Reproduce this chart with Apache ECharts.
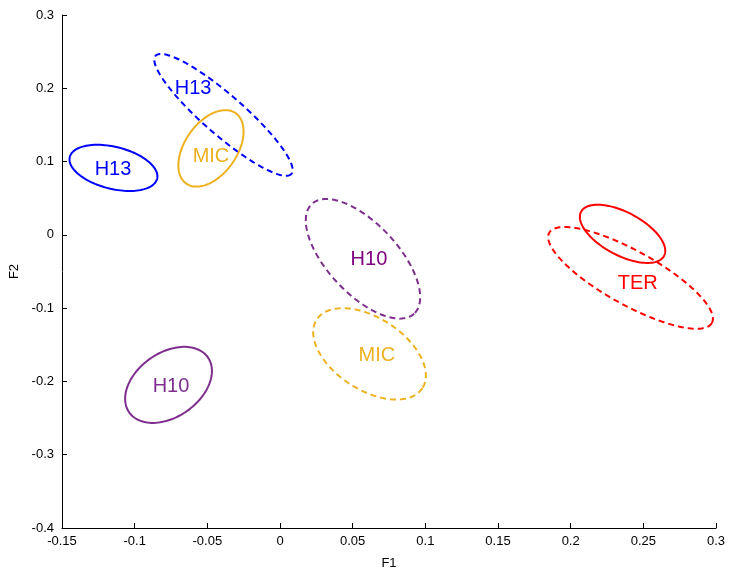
<!DOCTYPE html>
<html>
<head>
<meta charset="utf-8">
<script src="https://cdn.jsdelivr.net/npm/echarts@6/dist/echarts.min.js"></script>
<style>html,body{margin:0;padding:0;background:#fff}#c{width:729px;height:571px}</style>
</head>
<body>
<div id="c"></div>
<script>
// Ellipse groups: center (cx, cy) and two half-axis vectors (u, v) in data units
const names   = ['H13', 'H13', 'MIC', 'H10', 'MIC', 'TER', 'TER', 'H10'];
const dashed  = [false, true, false, true, true, false, true, false];
const colors  = ['#0000FF', '#0000FF', '#EDB120', '#7E2F8E', '#EDB120', '#FF0000', '#FF0000', '#7E2F8E'];
const centerX = [-0.1146, -0.0389, -0.0475, 0.0571, 0.0616, 0.2357, 0.2412, -0.0767];
const centerY = [0.0914, 0.1637, 0.1180, -0.0327, -0.1624, 0.0014, -0.0587, -0.2047];
const uX = [0.03004, 0.04674, 0.01697, 0.03520, 0.03636, 0.02855, 0.05597, 0.02706];
const uY = [-0.01486, -0.08057, 0.04806, -0.07484, -0.04681, -0.03011, -0.06152, 0.03757];
const vX = [-0.00350, -0.00903, 0.01466, -0.01761, -0.01349, -0.00695, -0.00901, 0.01263];
const vY = [-0.0278, -0.02059, -0.02035, -0.03257, -0.04119, -0.02590, -0.03222, -0.03577];
// Text labels (data coordinates)
const labelText  = ['H13', 'H13', 'MIC', 'H10', 'MIC', 'TER', 'H10'];
const labelX     = [-0.1149, -0.0598, -0.0475, 0.0612, 0.0667, 0.2462, -0.0750];
const labelY     = [0.0888, 0.1993, 0.1065, -0.0340, -0.1650, -0.0668, -0.2073];
const labelColor = ['#0000FF', '#0000FF', '#EDB120', '#800080', '#EDB120', '#FF0000', '#7E2F8E'];
const xTicks = { min: -0.15, max: 0.3, interval: 0.05 };
const yTicks = { min: -0.4, max: 0.3, interval: 0.1 };

const ellipseData = names.map((n, i) => [centerX[i], centerY[i], uX[i], uY[i], vX[i], vY[i], i]);
const labelData = labelText.map((t, i) => [labelX[i], labelY[i], i]);

const chart = echarts.init(document.getElementById('c'), null, { renderer: 'canvas' });
const font = 'Liberation Sans, Arial, Helvetica, sans-serif';
chart.setOption({
  animation: false,
  grid: { left: 62, right: 13, top: 15, bottom: 43, containLabel: false, outerBoundsMode: 'none' },
  xAxis: {
    type: 'value', min: xTicks.min, max: xTicks.max, interval: xTicks.interval,
    name: 'F1', nameLocation: 'middle', nameGap: 29,
    nameTextStyle: { color: '#000', fontSize: 13, fontFamily: font },
    axisLine: { onZero: false, lineStyle: { color: '#000', width: 1 } },
    axisTick: { inside: true, length: 5, lineStyle: { color: '#000' } },
    axisLabel: { color: '#000', fontSize: 13, fontFamily: font, margin: 7 },
    splitLine: { show: false }
  },
  yAxis: {
    type: 'value', min: yTicks.min, max: yTicks.max, interval: yTicks.interval,
    name: 'F2', nameLocation: 'middle', nameGap: 40,
    nameTextStyle: { color: '#000', fontSize: 13, fontFamily: font },
    axisLine: { onZero: false, lineStyle: { color: '#000', width: 1 } },
    axisTick: { inside: true, length: 5, lineStyle: { color: '#000' } },
    axisLabel: { color: '#000', fontSize: 13, fontFamily: font, margin: 8 },
    splitLine: { show: false }
  },
  series: [
    {
      type: 'custom',
      data: ellipseData,
      clip: false,
      renderItem: function (params, api) {
        const cx = api.value(0), cy = api.value(1);
        const ux = api.value(2), uy = api.value(3);
        const vx = api.value(4), vy = api.value(5);
        const idx = api.value(6);
        const pts = [];
        const N = 120;
        for (let k = 0; k < N; k++) {
          const t = 2 * Math.PI * k / N;
          const x = cx + Math.cos(t) * ux + Math.sin(t) * vx;
          const y = cy + Math.cos(t) * uy + Math.sin(t) * vy;
          pts.push(api.coord([x, y]));
        }
        return {
          type: 'polygon',
          shape: { points: pts },
          style: {
            fill: 'none',
            stroke: colors[idx],
            lineWidth: 2,
            lineDash: dashed[idx] ? [6, 4] : null
          }
        };
      }
    },
    {
      type: 'custom',
      data: labelData,
      clip: false,
      renderItem: function (params, api) {
        const p = api.coord([api.value(0), api.value(1)]);
        const i = api.value(2);
        return {
          type: 'text',
          x: p[0], y: p[1],
          style: {
            text: labelText[i],
            fill: labelColor[i],
            font: '20px ' + font,
            align: 'center',
            verticalAlign: 'middle'
          }
        };
      }
    }
  ]
});
</script>
</body>
</html>
